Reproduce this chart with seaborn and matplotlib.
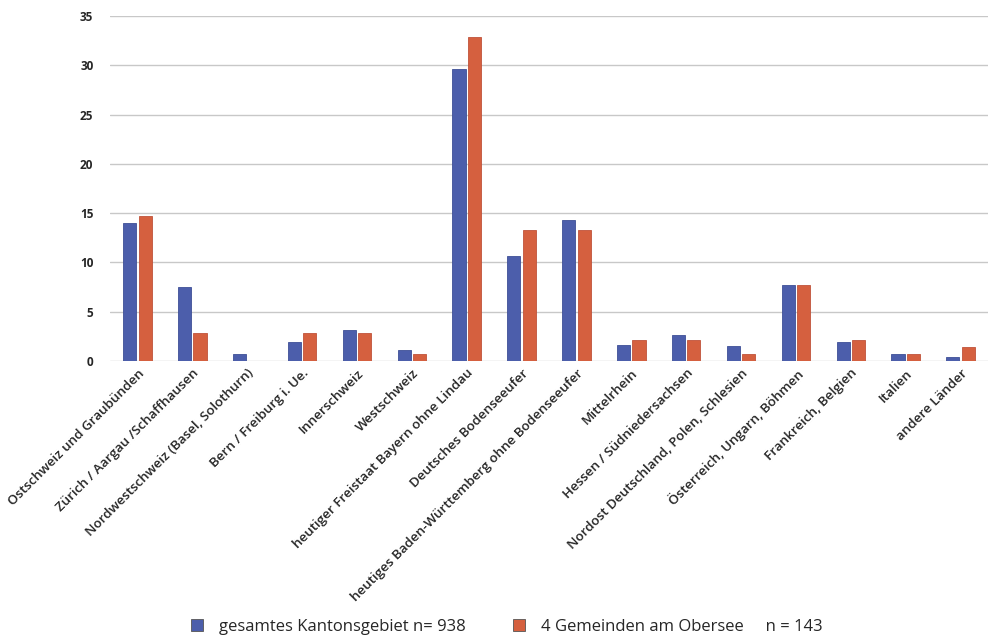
import matplotlib
matplotlib.use("Agg")
import matplotlib.pyplot as plt
import seaborn as sns
import pandas as pd

regions = [
    "Ostschweiz und Graubünden",
    "Zürich / Aargau /Schaffhausen",
    "Nordwestschweiz (Basel, Solothurn)",
    "Bern / Freiburg i. Ue.",
    "Innerschweiz",
    "Westschweiz",
    "heutiger Freistaat Bayern ohne Lindau",
    "Deutsches Bodenseeufer",
    "heutiges Baden-Württemberg ohne Bodenseeufer",
    "Mittelrhein",
    "Hessen / Südniedersachsen",
    "Nordost Deutschland, Polen, Schlesien",
    "Österreich, Ungarn, Böhmen",
    "Frankreich, Belgien",
    "Italien",
    "andere Länder",
]

kanton = [14.0, 7.5, 0.7, 1.9, 3.1, 1.1, 29.6, 10.7, 14.3, 1.6, 2.6, 1.5, 7.7, 1.9, 0.7, 0.4]
obersee = [14.69, 2.80, 0.0, 2.80, 2.80, 0.70, 32.87, 13.29, 13.29, 2.10, 2.10, 0.70, 7.69, 2.10, 0.70, 1.40]

series_names = ["gesamtes Kantonsgebiet n= 938", "4 Gemeinden am Obersee     n = 143"]
colors = ["#4c5eab", "#d5603f"]
yticks = [0, 5, 10, 15, 20, 25, 30, 35]

df = pd.DataFrame({
    "Region": regions * 2,
    "Anteil": kanton + obersee,
    "Gruppe": [series_names[0]] * len(regions) + [series_names[1]] * len(regions),
})

sns.set_style("white")
plt.rcParams["font.family"] = ["Open Sans", "DejaVu Sans"]

fig = plt.figure(figsize=(9.94, 6.36), dpi=100)
ax = fig.add_axes([110 / 994, 1 - 361 / 636, 878 / 994, 345 / 636])

sns.barplot(
    data=df, x="Region", y="Anteil", hue="Gruppe",
    palette=colors, saturation=1, width=0.56, gap=0.15, ax=ax,
    linewidth=0.6, edgecolor="#555555", legend=True,
)
edge_cols = ["#3e4f96"] * len(regions) + ["#c0523a"] * len(regions)
for patch, ec in zip(ax.patches, edge_cols):
    patch.set_edgecolor(ec)

ax.set_ylim(0, 35)
ax.set_yticks(yticks)
ax.set_yticklabels([str(v) for v in yticks], fontsize=8.5, fontweight="bold", color="#262626")
ax.set_xlim(-0.5, len(regions) - 0.5)
ax.yaxis.grid(True, color="#c8c8c8", linewidth=1.0)
ax.set_axisbelow(True)
for s in ax.spines.values():
    s.set_visible(False)
ax.tick_params(axis="y", length=0, pad=12)
ax.tick_params(axis="x", length=0, pad=4)
ax.set_xlabel("")
ax.set_ylabel("")
ax.set_xticks(range(len(regions)))
ax.set_xticklabels(regions, rotation=45, ha="right", rotation_mode="anchor",
                   fontsize=9.6, fontweight="semibold", color="#262626")

handles, labels = ax.get_legend_handles_labels()
ax.get_legend().remove()
fig.legend(handles, labels, loc="center", bbox_to_anchor=(0.51, 1 - 627 / 636),
           ncol=2, frameon=False, fontsize=12, handlelength=0.7, handleheight=0.7,
           columnspacing=2.8, handletextpad=1.0)

fig.savefig("out.png", dpi=100)
